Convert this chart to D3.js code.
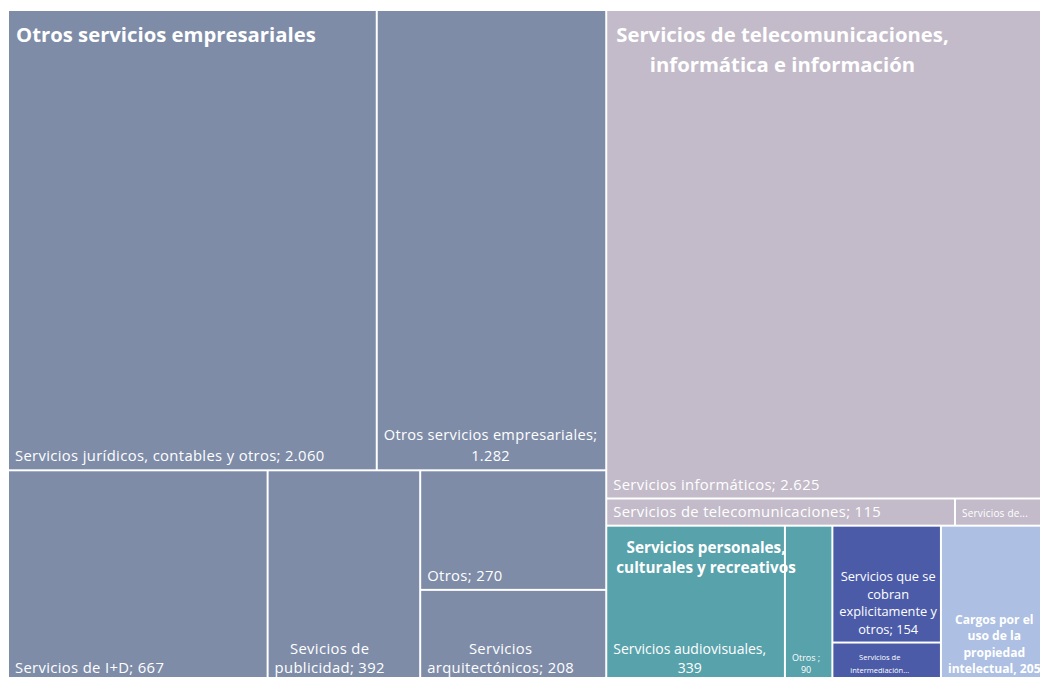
<!DOCTYPE html>
<html>
<head>
<meta charset="utf-8">
<script src="https://cdn.jsdelivr.net/npm/d3@7"></script>
<style>
  body { margin: 0; background: #fff; }
  text { font-family: "Open Sans", Lato, sans-serif; fill: #fff; }
</style>
</head>
<body>
<svg id="chart"></svg>
<script>
// categories (parent groups)
var groupNames = [
  "Otros servicios empresariales",
  "Servicios de telecomunicaciones, informática e información",
  "Servicios personales, culturales y recreativos",
  "Servicios que se cobran explícitamente y otros",
  "Cargos por el uso de la propiedad intelectual"
];
// group title as drawn ("|" = line break)
var groupTitles = [
  "Otros servicios empresariales",
  "Servicios de telecomunicaciones,|informática e información",
  "Servicios personales,|culturales y recreativos",
  "",
  ""
];
var groupColors = ["#7e8ca8", "#c3bbc9", "#58a2ab", "#4b5ba8", "#adbfe3"];

// leaves
var leafGroup = [0, 0, 0, 0, 0, 0, 1, 1, 1, 2, 2, 3, 3, 4];
var leafNames = [
  "Servicios jurídicos, contables y otros",
  "Otros servicios empresariales",
  "Servicios de I+D",
  "Sevicios de publicidad",
  "Otros",
  "Servicios arquitectónicos",
  "Servicios informáticos",
  "Servicios de telecomunicaciones",
  "Servicios de información",
  "Servicios audiovisuales",
  "Otros",
  "Servicios que se cobran explicitamente y otros",
  "Servicios de intermediación",
  "Cargos por el uso de la propiedad intelectual"
];
var leafValues = [2060, 1282, 667, 392, 270, 208, 2625, 115, 31, 339, 90, 154, 52, 205];
// label templates: {v} = value, "|" = line break
var leafLabels = [
  "Servicios jurídicos, contables y otros; {v}",
  "Otros servicios empresariales;|{v}",
  "Servicios de I+D; {v}",
  "Sevicios de|publicidad; {v}",
  "Otros; {v}",
  "Servicios|arquitectónicos; {v}",
  "Servicios informáticos; {v}",
  "Servicios de telecomunicaciones; {v}",
  "Servicios de...",
  "Servicios audiovisuales,|{v}",
  "Otros ;|{v}",
  "Servicios que se|cobran|explicitamente y|otros; {v}",
  "Servicios de|intermediación...",
  "Cargos por el|uso de la|propiedad|intelectual, {v}"
];

var width = 1040, height = 677;
var fmt = d3.formatLocale({decimal: ",", thousands: ".", grouping: [3], currency: ["", "€"]}).format(",d");

var svg = d3.select("#chart").attr("width", width).attr("height", height);

var data = {
  name: "root",
  children: groupNames.map(function (g, gi) {
    return {
      name: g, gi: gi,
      children: leafValues.map(function (v, i) {
        return {name: leafNames[i], value: v, li: i};
      }).filter(function (d) { return leafGroup[d.li] === gi; })
    };
  })
};

var root = d3.hierarchy(data)
  .sum(function (d) { return d.value || 0; })
  .sort(function (a, b) { return b.value - a.value; });

d3.treemap()
  .tile(d3.treemapSquarify.ratio(1))
  .size([1039, 670])
  .paddingInner(2)(root);

var g = svg.append("g").attr("transform", "translate(9,11)");

var leaves = root.leaves();

g.selectAll("rect.leaf")
  .data(leaves)
  .enter()
  .append("rect")
  .attr("class", "leaf")
  .attr("x", function (d) { return d.x0; })
  .attr("y", function (d) { return d.y0; })
  .attr("width", function (d) { return d.x1 - d.x0; })
  .attr("height", function (d) { return d.y1 - d.y0; })
  .attr("fill", function (d) { return groupColors[d.parent.data.gi]; });

// multi-line text block, lines centred on the widest one, block starts at left
function block(lines, left, firstBase, st, weight) {
  var t = g.append("text")
    .style("font-size", st.size + "px")
    .style("font-weight", weight)
    .style("letter-spacing", (st.ls || 0) + "px");
  var spans = lines.map(function (l, i) {
    return t.append("tspan").attr("y", firstBase + i * st.lh).text(l);
  });
  var maxW = d3.max(spans, function (s) { return s.node().getComputedTextLength(); });
  spans.forEach(function (s) {
    s.attr("x", left + maxW / 2).attr("text-anchor", "middle");
  });
}

var leafStyle = {
  1: {size: 14.6, lh: 21, ls: 0.3},
  8: {size: 10, lh: 11, ls: 0.2},
  9: {size: 14, lh: 19},
  10: {size: 9, lh: 12},
  11: {size: 12.8, lh: 17.5},
  12: {size: 7.5, lh: 13, dx: 17},
  13: {size: 12.1, lh: 16.5, weight: "bold"}
};

leaves.forEach(function (d) {
  var i = d.data.li;
  var st = leafStyle[i] || {size: 14.8, lh: 19, ls: 0.35};
  var lines = leafLabels[i].replace("{v}", fmt(leafValues[i])).split("|");
  var bottom = d.y1 - 8;
  block(lines, d.x0 + (st.dx || 6), bottom - (lines.length - 1) * st.lh, st, st.weight || "normal");
});

var groupStyle = [
  {size: 20.3, lh: 30, dx: 7, dy: 31},
  {size: 20.3, lh: 30, dx: 9, dy: 31},
  {size: 15.3, lh: 20, dx: 9, dy: 26}
];

root.children.forEach(function (d) {
  var title = groupTitles[d.data.gi];
  if (!title) return;
  var st = groupStyle[d.data.gi];
  block(title.split("|"), d.x0 + st.dx, d.y0 + st.dy, st, "bold");
});
</script>
</body>
</html>
